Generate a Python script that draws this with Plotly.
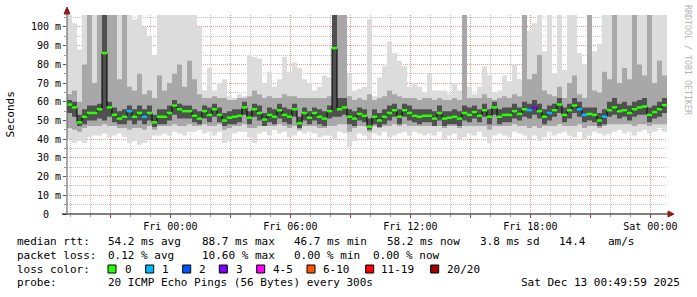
import plotly.graph_objects as go
import pandas as pd

# ---------------- data ----------------
t_start = "2025-12-11 18:50:00"
t_end = "2025-12-13 00:50:00"
step_minutes = 15

median_ms = [
    58.5, 57, 49, 52, 54, 54, 56, 86, 57, 53, 51, 52, 55, 52, 54, 52, 54, 49, 52, 52, 54, 58, 56, 55,
    55, 52.5, 51, 55, 53, 56, 53, 50, 51.5, 52, 52.5, 57, 51.5, 56, 54, 50.5, 53, 52, 55.5, 53, 52, 56, 48.5, 54,
    51.5, 54, 52, 51, 55, 88.7, 56, 57, 52, 51, 53.5, 52.5, 46.7, 52, 50, 52, 54, 55.5, 52, 55.5, 54, 52.5, 52, 52.5,
    52.5, 51, 54, 51, 51.5, 52, 51, 54, 53, 54.5, 52.5, 55.5, 52, 57, 52, 53, 53, 55, 53.5, 56, 55.5, 57, 55, 52,
    54, 55.5, 58.5, 53, 55.5, 58, 56, 53, 53.5, 53, 50, 52, 55.5, 57, 55, 55.5, 54, 56, 57, 57.5, 53, 54.5, 56, 58.2,
]
loss_pings = [
    0, 0, 0, 0, 0, 0, 0, 0, 0, 0, 0, 0, 1, 0, 0, 1, 0, 0, 0, 0, 0, 0, 0, 0,
    0, 0, 0, 0, 0, 0, 0, 0, 0, 0, 0, 0, 0, 0, 0, 0, 0, 0, 0, 0, 0, 0, 0, 0,
    0, 0, 0, 0, 0, 0, 0, 0, 0, 0, 0, 0, 0, 0, 0, 0, 0, 0, 0, 0, 0, 0, 0, 0,
    0, 0, 0, 0, 0, 0, 0, 0, 0, 0, 0, 0, 0, 0, 0, 0, 0, 0, 0, 0, 1, 3, 0, 0,
    1, 0, 0, 0, 0, 0, 1, 1, 0, 0, 0, 1, 0, 0, 0, 0, 0, 0, 0, 0, 0, 0, 0, 0,
]
ping_min = [
    40, 38, 39, 38, 41, 42, 42, 43, 41, 42, 43, 41, 38, 39, 37, 38, 40, 42, 42, 43, 42, 44, 43, 42,
    44, 44, 45, 43, 44, 42, 44, 38, 39, 43, 44, 44, 41, 38, 43, 44, 42, 45, 43, 44, 41, 42, 44, 43,
    44, 43, 41, 42, 42, 40, 44, 43, 36, 39, 43, 42, 40, 43, 42, 44, 41, 42, 43, 44, 42, 44, 43, 42,
    43, 42, 44, 40, 42, 43, 40, 41, 43, 42, 44, 41, 38, 42, 43, 42, 41, 44, 43, 42, 40, 42, 39, 41,
    44, 42, 43, 44, 42, 41, 44, 40, 42, 44, 43, 42, 43, 44, 45, 43, 44, 42, 44, 45, 43, 44, 46, 44,
]
ping_max = [
    110, 102, 88, 110, 95, 110, 110, 110, 110, 110, 110, 98, 110, 104, 110, 100, 95, 85, 110, 110, 110, 110, 110, 110,
    110, 110, 100, 66, 78, 66, 70, 72, 63, 62, 64, 63, 85, 84, 83, 70, 76, 68, 72, 84, 76, 81, 78, 72,
    70, 66, 68, 74, 73, 110, 110, 110, 75, 66, 67, 68, 104, 63, 73, 79, 92, 86, 82, 79, 68, 70, 68, 65,
    75, 66, 66, 66, 64, 70, 66, 110, 68, 64, 68, 79, 74, 65, 66, 74, 71, 80, 72, 110, 98, 102, 110, 87,
    110, 75, 110, 77, 110, 110, 86, 80, 110, 87, 91, 110, 110, 110, 110, 110, 110, 110, 110, 110, 110, 110, 110, 110,
]
band_lo = [
    46, 45, 44, 46, 47, 47, 47, 48, 47, 47, 46, 46, 45, 46, 46, 45, 47, 45, 47, 47, 47, 48, 47, 47,
    48, 47, 47, 48, 47, 47, 48, 45, 46, 47, 47, 48, 46, 46, 47, 47, 47, 47, 48, 47, 46, 47, 45, 47,
    47, 47, 46, 46, 47, 47, 48, 48, 44, 46, 47, 47, 44, 47, 46, 47, 47, 48, 47, 48, 47, 47, 47, 47,
    47, 47, 47, 46, 47, 47, 46, 47, 47, 47, 47, 47, 45, 47, 47, 47, 47, 48, 47, 47, 46, 47, 46, 47,
    47, 47, 48, 47, 47, 47, 48, 46, 47, 47, 46, 47, 48, 48, 48, 48, 48, 47, 48, 48, 47, 48, 48, 48,
]
band_hi = [
    64, 66, 60, 80, 110, 70, 110, 110, 110, 110, 72, 110, 68, 66, 75, 64, 66, 62, 74, 66, 70, 75, 80, 68,
    82, 72, 64, 62, 62, 63, 62, 62, 61, 61, 62, 62, 63, 66, 64, 62, 63, 62, 62, 64, 63, 63, 62, 62,
    62, 62, 62, 62, 63, 110, 110, 110, 63, 61, 62, 61, 64, 61, 62, 63, 66, 64, 63, 62, 62, 62, 61, 62,
    62, 61, 62, 61, 61, 62, 61, 110, 62, 62, 62, 64, 62, 61, 62, 63, 62, 64, 63, 110, 72, 75, 85, 66,
    64, 63, 68, 62, 70, 74, 64, 62, 110, 66, 65, 76, 72, 110, 70, 78, 72, 110, 80, 74, 110, 70, 82, 74,
]
core_lo = [
    54, 52, 47, 48, 50, 50, 51, 50, 52, 49, 48, 48, 50, 48, 50, 48, 50, 46.5, 48, 48, 50, 53, 51, 51,
    51, 49, 48, 51, 49, 52, 49, 47, 48, 48, 49, 53, 48, 52, 50, 47, 49, 48, 51, 49, 48, 52, 46, 50,
    48, 50, 48, 47, 51, 52, 52, 53, 48, 47, 50, 49, 45, 48, 46.5, 48, 50, 52, 48, 52, 50, 49, 48, 49,
    49, 47, 50, 47, 48, 48, 47, 50, 49, 51, 49, 52, 48, 53, 48, 49, 49, 51, 50, 52, 51, 53, 51, 48,
    50, 52, 54, 49, 51, 54, 52, 49, 50, 49, 47, 48, 52, 53, 51, 52, 50, 52, 53, 53, 49, 51, 52, 54,
]
core_hi = [
    61, 60, 53, 56, 58, 58, 59, 110, 60, 57, 55, 56, 58, 56, 58, 56, 58, 53, 56, 56, 58, 61, 59, 58,
    58, 56, 55, 58, 57, 59, 57, 54, 55, 56, 56, 60, 55, 59, 58, 54, 57, 56, 59, 57, 56, 59, 52, 57,
    55, 57, 56, 55, 58, 110, 62, 62, 56, 55, 57, 56, 51, 56, 54, 56, 58, 59, 56, 59, 58, 56, 56, 56,
    56, 55, 58, 55, 55, 56, 55, 58, 57, 58, 56, 59, 56, 60, 56, 57, 57, 59, 57, 60, 59, 61, 59, 56,
    58, 59, 62, 57, 59, 62, 60, 57, 57, 57, 54, 56, 60, 62, 59, 60, 58, 60, 61, 62, 57, 58, 60, 62,
]

y_tick_vals = [0, 10, 20, 30, 40, 50, 60, 70, 80, 90, 100]
y_tick_text = ["0\u00a0\u00a0", "10 m", "20 m", "30 m", "40 m", "50 m",
               "60 m", "70 m", "80 m", "90 m", "100 m"]
x_tick_vals = ["2025-12-11 21:00", "2025-12-12 00:00", "2025-12-12 03:00",
               "2025-12-12 06:00", "2025-12-12 09:00", "2025-12-12 12:00",
               "2025-12-12 15:00", "2025-12-12 18:00", "2025-12-12 21:00",
               "2025-12-13 00:00"]
x_tick_text = ["", "Fri 00:00", "", "Fri 06:00", "", "Fri 12:00", "",
               "Fri 18:00", "", "Sat 00:00"]

loss_labels = ["0", "1", "2", "3", "4-5", "6-10", "11-19", "20/20"]
loss_colors = ["#26ff00", "#00b8ff", "#0059ff", "#7e00ff", "#ff00ff",
               "#ff5500", "#ff0000", "#a10000"]
loss_upper = [0, 1, 2, 3, 5, 10, 19, 20]

stats_rtt = [("median rtt:", 16), ("54.2 ms avg", 107), ("88.7 ms max", 201),
             ("46.7 ms min", 293), ("58.2 ms now", 386), ("3.8 ms sd", 479),
             ("14.4", 558), ("am/s", 607)]
stats_loss = [("packet loss:", 16), ("0.12 % avg", 107), ("10.60 % max", 201),
              ("0.00 % min", 293), ("0.00 % now", 372)]
probe_text = "20 ICMP Echo Pings (56 Bytes) every 300s"
date_text = "Sat Dec 13 00:49:59 2025"

# ---------------- figure ----------------
MONO = "DejaVu Sans Mono"
PL, PR, PT, PB = 67, 667, 15, 214


def px(x):
    return (x - PL) / (PR - PL)


def py(y):
    return (PB - y) / (PB - PT)


times = pd.date_range(t_start, periods=len(median_ms) + 1, freq=f"{step_minutes}min")
centers = times[:-1] + pd.Timedelta(minutes=step_minutes / 2)

fig = go.Figure()


def band(lo, hi, color):
    fig.add_trace(go.Scatter(x=times, y=lo + [lo[-1]], mode="lines",
                             line=dict(width=0, shape="hv"), hoverinfo="skip",
                             showlegend=False))
    fig.add_trace(go.Scatter(x=times, y=hi + [hi[-1]], mode="lines",
                             line=dict(width=0, shape="hv"), fill="tonexty",
                             fillcolor=color, hoverinfo="skip", showlegend=False))


band(ping_min, ping_max, "#dcdcdc")
band(band_lo, band_hi, "#a8a8a8")
band(core_lo, core_hi, "#505050")

fig.add_trace(go.Scatter(x=times, y=median_ms + [median_ms[-1]], mode="lines",
                         line=dict(width=1, color="#000000", shape="hv"),
                         hoverinfo="skip", showlegend=False))


def loss_color(n):
    for up, c in zip(loss_upper, loss_colors):
        if n <= up:
            return c
    return loss_colors[-1]


point_colors = [loss_color(n) for n in loss_pings]
fig.add_trace(go.Scatter(x=centers, y=median_ms, mode="markers",
                         marker=dict(symbol="line-ew", size=4,
                                     line=dict(width=2.5, color=point_colors)),
                         hoverinfo="skip", showlegend=False))

MGRID = "#dc9c9c"
GRID = "#c4c4c4"
DOT = "1px,1px"

fig.update_layout(
    width=697, height=297,
    margin=dict(l=PL, r=697 - PR, t=PT, b=297 - PB),
    paper_bgcolor="white", plot_bgcolor="white",
    showlegend=False,
    font=dict(family=MONO, size=10, color="#000000"),
)
fig.update_xaxes(
    type="date", range=[t_start, t_end],
    tickmode="array", tickvals=x_tick_vals, ticktext=x_tick_text,
    showgrid=True, gridcolor=MGRID, griddash=DOT, gridwidth=1,
    ticks="outside", ticklen=3, tickcolor="#a03030",
    showline=False, zeroline=False,
    tickfont=dict(family=MONO, size=10, color="#000000"),
    minor=dict(tickmode="linear", tick0="2025-12-11 19:00", dtick=3600000,
               showgrid=True, gridcolor=GRID, griddash=DOT,
               ticks="outside", ticklen=2, tickcolor="#999999"),
)
fig.update_yaxes(
    range=[0, 106.4],
    tickmode="array", tickvals=y_tick_vals, ticktext=y_tick_text,
    showgrid=True, gridcolor=MGRID, griddash=DOT, gridwidth=1,
    ticks="outside", ticklen=3, tickcolor="#555555",
    showline=False, zeroline=False,
    tickfont=dict(family=MONO, size=10, color="#000000"),
    minor=dict(tickmode="linear", tick0=0, dtick=5,
               showgrid=True, gridcolor=GRID, griddash=DOT,
               ticks="outside", ticklen=2, tickcolor="#999999"),
)

shapes = []
# axis lines (with rrdtool-style overhang) and arrows
shapes.append(dict(type="line", xref="paper", yref="paper", xsizemode="pixel",
                   ysizemode="pixel", xanchor=0, yanchor=0, x0=-5, x1=603, y0=0, y1=0,
                   line=dict(color="#000000", width=1)))
shapes.append(dict(type="line", xref="paper", yref="paper", xsizemode="pixel",
                   ysizemode="pixel", xanchor=0, yanchor=0, x0=0, x1=0, y0=0, y1=202,
                   line=dict(color="#555555", width=1)))
shapes.append(dict(type="path", xref="paper", yref="paper", xsizemode="pixel",
                   ysizemode="pixel", xanchor=0, yanchor=1,
                   path="M -3,1 L 3,1 L 0,8 Z", fillcolor="#8b1a1a",
                   line=dict(color="#8b1a1a", width=1)))
shapes.append(dict(type="path", xref="paper", yref="paper", xsizemode="pixel",
                   ysizemode="pixel", xanchor=1, yanchor=0,
                   path="M 1,-3 L 1,3 L 7,0 Z", fillcolor="#8b1a1a",
                   line=dict(color="#8b1a1a", width=1)))

annotations = []


def text(s, x, y, anchor="left", size=11, color="#000000", angle=0):
    annotations.append(dict(text=s, x=px(x), y=py(y), xref="paper", yref="paper",
                            xanchor=anchor, yanchor="middle", showarrow=False,
                            borderpad=0, textangle=angle,
                            font=dict(family=MONO, size=size, color=color)))


for s, x in stats_rtt:
    text(s, x, 241.5)
for s, x in stats_loss:
    text(s, x, 255.3)
text("loss color:", 16, 269.3)
swatch_x = [108, 145.7, 182.7, 219.3, 256.7, 307, 365.7, 430.7]
label_x = [124, 160.7, 198, 234.7, 271.7, 321.7, 380.3, 445.7]
for lab, col, sx, lx in zip(loss_labels, loss_colors, swatch_x, label_x):
    shapes.append(dict(type="rect", xref="paper", yref="paper",
                       x0=px(sx), x1=px(sx + 8), y0=py(273), y1=py(265),
                       fillcolor=col, line=dict(color="#000000", width=1)))
    text(lab, lx, 269.3)
text("probe:", 16, 282.8)
text(probe_text, 107, 282.8)
text(date_text, 681, 282.8, anchor="right")

text("Seconds", 10.5, 115, anchor="center", size=11, angle=-90)
text("RRDTOOL / TOBI OETIKER", 688, 60, anchor="center", size=8.3,
     color="#b4b4b4", angle=90)

fig.update_layout(shapes=shapes, annotations=annotations)

fig.write_html("out.html")
